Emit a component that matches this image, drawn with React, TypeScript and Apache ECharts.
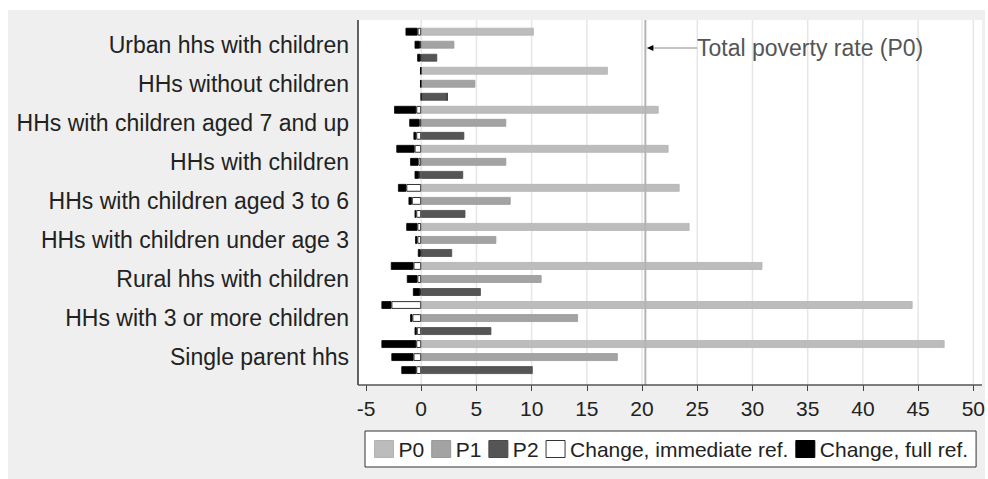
import React, { useEffect, useRef } from 'react';
import * as echarts from 'echarts';

const categories = [
  'Urban hhs with children',
  'HHs without children',
  'HHs with children aged 7 and up',
  'HHs with children',
  'HHs with children aged 3 to 6',
  'HHs with children under age 3',
  'Rural hhs with children',
  'HHs with 3 or more children',
  'Single parent hhs',
];

const p0 = [10.2, 16.9, 21.5, 22.4, 23.4, 24.3, 30.9, 44.5, 47.4];
const p1 = [3.0, 4.9, 7.7, 7.7, 8.1, 6.8, 10.9, 14.2, 17.8];
const p2 = [1.45, 2.35, 3.9, 3.8, 4.0, 2.8, 5.4, 6.35, 10.1];

const p0Immediate = [-0.33, -0.03, -0.45, -0.6, -1.35, -0.35, -0.7, -2.7, -0.45];
const p0Full = [-1.42, -0.1, -2.45, -2.25, -2.1, -1.35, -2.75, -3.6, -3.6];
const p1Immediate = [-0.12, -0.03, -0.15, -0.25, -0.85, -0.35, -0.35, -0.8, -0.7];
const p1Full = [-0.6, -0.1, -1.08, -1.0, -1.15, -0.55, -1.3, -1.0, -2.7];
const p2Immediate = [-0.08, 0, -0.45, -0.2, -0.45, -0.08, -0.1, -0.4, -0.45];
const p2Full = [-0.36, -0.03, -0.7, -0.6, -0.6, -0.3, -0.75, -0.6, -1.8];

const totalP0 = 20.3;
const xMin = -5;
const xMax = 50;
const xStep = 5;
const gridValues = [0, 5, 10, 15, 20, 25, 30, 35, 40, 45, 50];

const legendNames = ['P0', 'P1', 'P2', 'Change, immediate ref.', 'Change, full ref.'];

export default function App() {
  const ref = useRef<HTMLDivElement>(null);
  useEffect(() => {
    const chart = echarts.init(ref.current!, null, { renderer: 'svg' });
    const font = '"Liberation Sans", Arial, Helvetica, sans-serif';
    const extra = (full: number[], imm: number[]) => full.map((v, i) => +(v - imm[i]).toFixed(3));
    const bar = (name: string, data: number[], stack: string, color: string, border: string, bw = 0.8) => ({
      type: 'bar',
      name,
      data,
      stack,
      barWidth: 7.8,
      barGap: '67%',
      itemStyle: { color, borderColor: border, borderWidth: bw },
      emphasis: { disabled: true },
      silent: true,
      z: 3,
    });
    const immName = 'Change, immediate ref.';
    const fullName = 'Change, full ref.';
    const option: any = {
      animation: false,
      backgroundColor: '#ffffff',
      textStyle: { fontFamily: font },
      grid: { left: 366, right: 14.7, top: 25.2, bottom: 102.4 },
      xAxis: {
        type: 'value',
        min: xMin,
        max: xMax,
        interval: xStep,
        offset: 8.4,
        axisLine: { show: false },
        axisTick: { show: true, length: 6, lineStyle: { color: '#444', width: 1 } },
        axisLabel: { fontSize: 21, color: '#222', margin: 13, fontFamily: font },
        splitLine: { show: false },
      },
      yAxis: {
        type: 'category',
        inverse: true,
        data: categories,
        axisLine: { show: false },
        axisTick: { show: false },
        axisLabel: { fontSize: 23, color: '#222', margin: 17, fontFamily: font },
        splitLine: { show: false },
      },
      legend: {
        data: legendNames,
        left: 365,
        top: 431,
        orient: 'horizontal',
        padding: [6, 8, 6, 9],
        itemWidth: 19,
        itemHeight: 17,
        itemGap: 7,
        icon: 'rect',
        selectedMode: false,
        backgroundColor: '#ffffff',
        borderColor: '#333',
        borderWidth: 1,
        borderRadius: 0,
        itemStyle: { borderWidth: 1 },
        textStyle: { fontSize: 21, color: '#222', fontFamily: font, lineHeight: 24 },
      },
      series: [
        bar('P0', p0, 's0', '#bcbcbc', '#b2b2b2'),
        bar(immName, p0Immediate, 's0', '#ffffff', '#333333', 1),
        bar(fullName, extra(p0Full, p0Immediate), 's0', '#000000', '#000000'),
        bar('P1', p1, 's1', '#a3a3a3', '#999999'),
        bar(immName, p1Immediate, 's1', '#ffffff', '#333333', 1),
        bar(fullName, extra(p1Full, p1Immediate), 's1', '#000000', '#000000'),
        bar('P2', p2, 's2', '#555555', '#4a4a4a'),
        bar(immName, p2Immediate, 's2', '#ffffff', '#333333', 1),
        bar(fullName, extra(p2Full, p2Immediate), 's2', '#000000', '#000000'),
      ],
    };
    chart.setOption(option);

    const plotTop = 20;
    const plotBottom = 385;
    const plotLeft = 358;
    const plotRight = 982;
    const gx = (v: number) => chart.convertToPixel({ xAxisIndex: 0 }, v) as number;
    const px = gx(totalP0);
    const annY = 48;
    const textX = 697;

    const graphics: any[] = [
      { type: 'rect', shape: { x: 8, y: 10, width: 977, height: 469 }, style: { fill: '#efefef' }, z: -20, silent: true },
      { type: 'rect', shape: { x: plotLeft, y: plotTop, width: plotRight - plotLeft, height: plotBottom - plotTop }, style: { fill: '#ffffff' }, z: -15, silent: true },
      ...gridValues.map((v) => ({
        type: 'line',
        shape: { x1: gx(v), y1: plotTop, x2: gx(v), y2: plotBottom },
        style: { stroke: '#e6e6e6', lineWidth: 1.5 },
        z: -10,
        silent: true,
      })),
      { type: 'line', shape: { x1: plotLeft, y1: plotTop, x2: plotLeft, y2: plotBottom }, style: { stroke: '#111', lineWidth: 1.3 }, z: 10, silent: true },
      { type: 'line', shape: { x1: plotLeft, y1: plotBottom, x2: plotRight, y2: plotBottom }, style: { stroke: '#555', lineWidth: 1.3 }, z: 10, silent: true },
      { type: 'line', shape: { x1: px, y1: plotTop, x2: px, y2: plotBottom }, style: { stroke: '#b4b4b4', lineWidth: 2 }, z: 8, silent: true },
      { type: 'line', shape: { x1: px + 8, y1: annY, x2: textX, y2: annY }, style: { stroke: '#8a8a8a', lineWidth: 1 }, z: 9, silent: true },
      { type: 'polygon', shape: { points: [[px + 1.5, annY], [px + 8, annY - 3], [px + 8, annY + 3]] }, style: { fill: '#000' }, z: 9, silent: true },
      {
        type: 'text',
        x: textX,
        y: annY,
        style: { text: 'Total poverty rate (P0)', fontSize: 23, fill: '#555', fontFamily: font, verticalAlign: 'middle', align: 'left' },
        z: 9,
        silent: true,
      },
    ];
    chart.setOption({ graphic: graphics });

    return () => chart.dispose();
  }, []);
  return <div ref={ref} style={{ position: 'fixed', left: 0, top: 0, width: 988, height: 479 }} />;
}
